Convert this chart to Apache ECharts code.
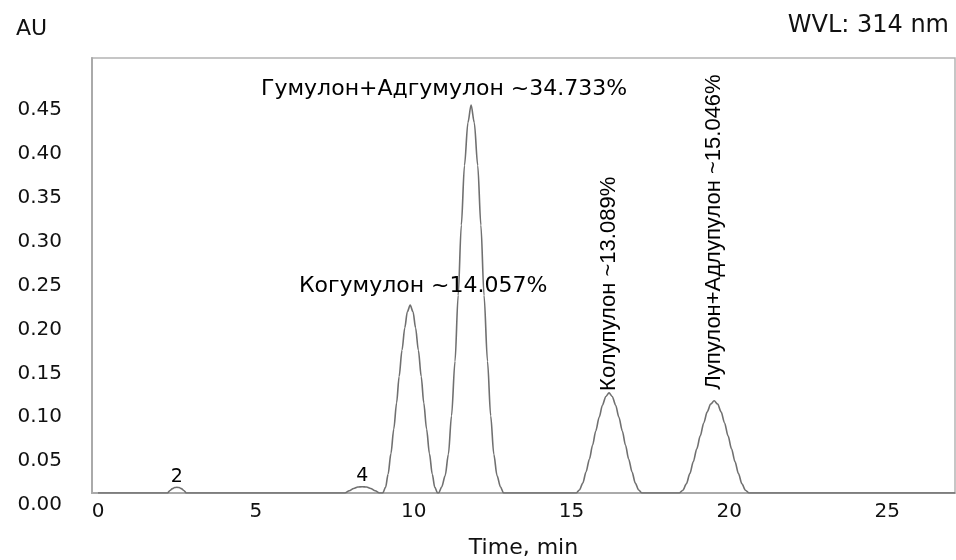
<!DOCTYPE html>
<html>
<head>
<meta charset="utf-8">
<script src="https://cdn.jsdelivr.net/npm/echarts@6/dist/echarts.min.js"></script>
<style>
html,body{margin:0;padding:0;background:#fff;}
#chart{width:956px;height:560px;}
</style>
</head>
<body>
<div id="chart"></div>
<script>
// Retention time (min) and absorbance (AU)
const timeMin = [
  0,
  2.20, 2.28, 2.36, 2.43, 2.50, 2.57, 2.64, 2.72, 2.80,
  7.82, 7.96, 8.10, 8.23, 8.37, 8.51, 8.64, 8.78, 8.92,
  9.02, 9.11, 9.19, 9.28, 9.37, 9.46, 9.54, 9.63, 9.72, 9.80, 9.89,
  9.98, 10.06, 10.15, 10.24, 10.32, 10.41, 10.50, 10.59, 10.67, 10.76,
  10.79, 10.89, 11.00, 11.10, 11.20, 11.31, 11.41, 11.51, 11.61, 11.72, 11.82,
  11.92, 12.03, 12.13, 12.23, 12.34, 12.44, 12.54, 12.64, 12.75, 12.85,
  15.15, 15.25, 15.36, 15.46, 15.57, 15.67, 15.77, 15.88, 15.98, 16.09, 16.19,
  16.29, 16.40, 16.50, 16.61, 16.71, 16.81, 16.92, 17.02, 17.13, 17.23,
  18.42, 18.53, 18.64, 18.75, 18.86, 18.97, 19.08, 19.19, 19.30, 19.41, 19.52,
  19.63, 19.74, 19.85, 19.96, 20.07, 20.18, 20.29, 20.40, 20.51, 20.62,
  27.15
];
const absorbanceAU = [
  0,
  0, 0.0028, 0.0050, 0.0062, 0.0065, 0.0062, 0.0050, 0.0028, 0,
  0, 0.0026, 0.0052, 0.0068, 0.0072, 0.0068, 0.0052, 0.0026, 0,
  0, 0.0064, 0.0214, 0.0449, 0.0728, 0.1027, 0.1327, 0.1626, 0.1883, 0.2065, 0.214,
  0.2065, 0.1883, 0.1626, 0.1327, 0.1027, 0.0728, 0.0449, 0.0214, 0.0064, 0,
  0, 0.007, 0.020, 0.044, 0.088, 0.150, 0.225, 0.305, 0.373, 0.422, 0.442,
  0.422, 0.373, 0.305, 0.225, 0.150, 0.088, 0.044, 0.020, 0.007, 0,
  0, 0.0034, 0.0114, 0.0239, 0.0388, 0.0547, 0.0707, 0.0866, 0.100, 0.110, 0.114,
  0.110, 0.100, 0.0866, 0.0707, 0.0547, 0.0388, 0.0239, 0.0114, 0.0034, 0,
  0, 0.0032, 0.0105, 0.0221, 0.0357, 0.0504, 0.0651, 0.0798, 0.0924, 0.1013, 0.105,
  0.1013, 0.0924, 0.0798, 0.0651, 0.0504, 0.0357, 0.0221, 0.0105, 0.0032, 0,
  0
];
// Peak annotations
const peakTimes = [2.50, 8.37, 9.89, 11.82, 16.19, 19.52];
const peakHeights = [0.0065, 0.0072, 0.214, 0.442, 0.114, 0.105];
const peakLabels = ['2', '4', 'Когумулон ~14.057%', 'Гумулон+Адгумулон ~34.733%', 'Колупулон ~13.089%', 'Лупулон+Адлупулон ~15.046%'];
// Axis tick labels
const xTicks = [0, 5, 10, 15, 20, 25];
const yTicks = [0, 0.05, 0.10, 0.15, 0.20, 0.25, 0.30, 0.35, 0.40, 0.45];

const curve = timeMin.map((t, i) => [t, absorbanceAU[i]]);

const labelStyles = [
  {position: 'top', distance: 1, fontSize: 19, fontFamily: 'DejaVu Sans'},
  {position: 'top', distance: 1, fontSize: 19, fontFamily: 'DejaVu Sans'},
  {position: 'top', distance: 8, offset: [13, 0], fontSize: 22, fontFamily: 'DejaVu Sans'},
  {position: 'top', distance: 5, offset: [-27, 0], fontSize: 22, fontFamily: 'DejaVu Sans'},
  {position: 'top', distance: 0, rotate: 90, align: 'left', verticalAlign: 'middle', offset: [2, 0], fontSize: 22, fontFamily: 'Liberation Sans'},
  {position: 'top', distance: 8, rotate: 90, align: 'left', verticalAlign: 'middle', offset: [3, 0], fontSize: 22, fontFamily: 'Liberation Sans'}
];
const peakData = peakTimes.map((t, i) => ({
  value: [t, peakHeights[i]],
  label: Object.assign({show: true, formatter: peakLabels[i], color: '#000000', opacity: 1, textBorderWidth: 0}, labelStyles[i])
}));

const chart = echarts.init(document.getElementById('chart'), null, {renderer: 'canvas'});
chart.setOption({
  animation: false,
  backgroundColor: '#fff',
  title: [
    {text: 'AU', left: 11, top: 13, textStyle: {fontFamily: 'DejaVu Sans', fontSize: 22, fontWeight: 'normal', color: '#111'}},
    {text: 'WVL: 314 nm', right: 2, top: 9, textStyle: {fontFamily: 'DejaVu Sans', fontSize: 24, fontWeight: 'normal', color: '#111'}}
  ],
  grid: {left: 92, top: 58, right: 1, bottom: 67, outerBoundsMode: 'none', show: true, borderColor: '#b4b4b4', borderWidth: 1.5, backgroundColor: 'transparent'},
  xAxis: {
    type: 'value', min: -0.19, max: 27.15, splitNumber: 6,
    name: 'Time, min', nameLocation: 'middle', nameGap: 44,
    nameTextStyle: {fontFamily: 'DejaVu Sans', fontSize: 22, color: '#111'},
    axisLine: {show: true, onZero: false, lineStyle: {color: '#aaaaaa', width: 2}},
    axisTick: {show: false}, splitLine: {show: false},
    axisLabel: {
      showMinLabel: false, showMaxLabel: false, margin: 9,
      fontFamily: 'DejaVu Sans', fontSize: 20, color: '#111',
      formatter: v => xTicks.includes(Math.round(v * 1000) / 1000) ? String(Math.round(v)) : ''
    }
  },
  yAxis: {
    type: 'value', min: 0, max: 0.4955, interval: 0.05,
    axisLine: {show: true, onZero: false, lineStyle: {color: '#aaaaaa', width: 2}},
    axisTick: {show: false}, splitLine: {show: false},
    axisLabel: {
      showMaxLabel: false, margin: 30, verticalAlign: 'top', padding: [2, 0, 0, 0],
      fontFamily: 'DejaVu Sans', fontSize: 20, color: '#111',
      formatter: v => {
        const r = Math.round(v * 100) / 100;
        return yTicks.some(t => Math.abs(t - r) < 1e-9) && Math.abs(v - r) < 1e-6 ? r.toFixed(2) : '';
      }
    }
  },
  series: [
    {
      type: 'line', data: curve, showSymbol: false, smooth: 0.3, smoothMonotone: 'x',
      lineStyle: {color: '#707070', width: 1.6}, silent: true, z: 3
    },
    {
      type: 'scatter', data: peakData, symbolSize: 0,
      itemStyle: {color: '#ffffff'}, silent: true, z: 4
    }
  ]
});
</script>
</body>
</html>
